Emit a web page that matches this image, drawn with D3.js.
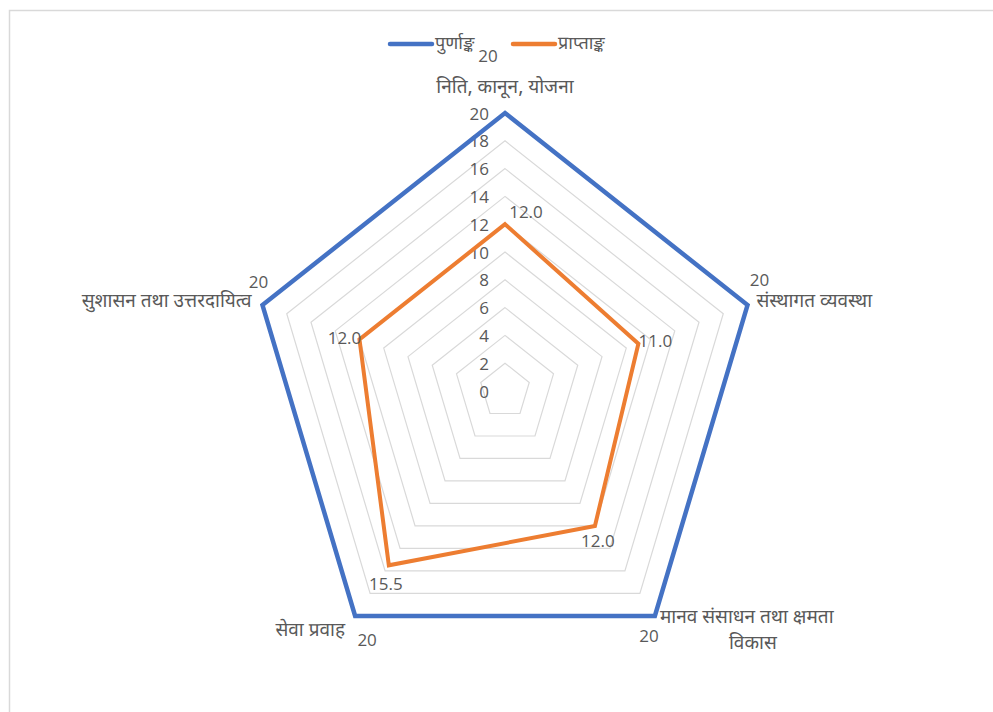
<!DOCTYPE html>
<html>
<head>
<meta charset="utf-8">
<script src="https://cdn.jsdelivr.net/npm/d3@7"></script>
<style>
  body { margin: 0; background: #fff; }
  text { font-family: "Noto Sans Devanagari", "Noto Sans", "Lohit Devanagari", sans-serif; fill: #595959; }
  .num { font-family: "Open Sans", "Noto Sans", sans-serif; }
</style>
</head>
<body>
<svg id="chart" width="993" height="712"></svg>
<script>
// categories (axes of the radar), clockwise from top
let categories = [
  ["निति, कानून, योजना"],
  ["संस्थागत व्यवस्था"],
  ["मानव संसाधन तथा क्षमता", "विकास"],
  ["सेवा प्रवाह"],
  ["सुशासन तथा उत्तरदायित्व"]
]
let series_names = ["पुर्णाङ्क", "प्राप्ताङ्क"]
let full_marks = [20, 20, 20, 20, 20]
let obtained = [12.0, 11.0, 12.0, 15.5, 12.0]
let ticks = [0, 2, 4, 6, 8, 10, 12, 14, 16, 18, 20]

let width = 993,
  height = 712,
  cx = 505,
  cy = 391,
  rx = 255,
  ry = 278,
  colors = ["#4472C4", "#ED7D31"]

// label offsets from each vertex (layout only)
let full_label_off = [[-17, -58], [12, -26], [-6, 20], [12, 24], [-4, -24]]
let obt_label_off = [[21, -13], [17, -3], [3, 15], [-3, 18], [-15, -2]]
let cat_label_pos = [
  {dx: 0, dy: -25, anchor: "middle"},
  {dx: 9, dy: -3, anchor: "start"},
  {dx: 5, dy: 2, anchor: "start"},
  {dx: -10, dy: 16, anchor: "end"},
  {dx: -11, dy: -3, anchor: "end"}
]

let r = d3.scaleLinear().domain([0, 20]).range([0, 1])
let angle = d3.scaleLinear().domain([0, categories.length]).range([0, 2 * Math.PI])

function px(i, v) { return cx + rx * r(v) * Math.sin(angle(i)) }
function py(i, v) { return cy - ry * r(v) * Math.cos(angle(i)) }

let line = d3.line()
  .x(d => px(d.i, d.v))
  .y(d => py(d.i, d.v))
  .curve(d3.curveLinearClosed)

let svg = d3.select("#chart")

// chart area border (only top/left visible in the frame)
svg.append("rect")
  .attr("x", 9.5).attr("y", 10.5)
  .attr("width", 1000).attr("height", 720)
  .attr("fill", "none").attr("stroke", "#d9d9d9").attr("stroke-width", 1.5)

// grid rings
svg.append("g").selectAll("path")
  .data(ticks.slice(1)).enter()
  .append("path")
  .attr("d", t => line(categories.map((c, i) => ({i: i, v: t}))))
  .attr("fill", "none")
  .attr("stroke", "#d9d9d9")
  .attr("stroke-width", 1.2)

// tick labels along top axis
svg.append("g").selectAll("text")
  .data(ticks).enter()
  .append("text")
  .attr("class", "num")
  .attr("x", cx - 16)
  .attr("y", t => py(0, t))
  .attr("text-anchor", "end")
  .attr("dominant-baseline", "central")
  .attr("font-size", 17)
  .text(t => t)

// series
let all_series = [full_marks, obtained]
svg.append("g").selectAll("path")
  .data(all_series).enter()
  .append("path")
  .attr("d", s => line(s.map((v, i) => ({i: i, v: v}))))
  .attr("fill", "none")
  .attr("stroke", (s, k) => colors[k])
  .attr("stroke-width", (s, k) => k == 0 ? 4.5 : 4)
  .attr("stroke-linejoin", "miter")

// data labels
svg.append("g").selectAll("text")
  .data(full_marks).enter()
  .append("text")
  .attr("class", "num")
  .attr("x", (v, i) => px(i, v) + full_label_off[i][0])
  .attr("y", (v, i) => py(i, v) + full_label_off[i][1])
  .attr("text-anchor", "middle")
  .attr("dominant-baseline", "central")
  .attr("font-size", 17)
  .text(v => v)

svg.append("g").selectAll("text")
  .data(obtained).enter()
  .append("text")
  .attr("class", "num")
  .attr("x", (v, i) => px(i, v) + obt_label_off[i][0])
  .attr("y", (v, i) => py(i, v) + obt_label_off[i][1])
  .attr("text-anchor", "middle")
  .attr("dominant-baseline", "central")
  .attr("font-size", 17)
  .text(v => d3.format(".1f")(v))

// category labels
let cat = svg.append("g").selectAll("text")
  .data(categories).enter()
  .append("text")
  .attr("x", (c, i) => px(i, 20) + cat_label_pos[i].dx)
  .attr("y", (c, i) => py(i, 20) + cat_label_pos[i].dy)
  .attr("text-anchor", (c, i) => cat_label_pos[i].anchor)
  .attr("dominant-baseline", "central")
  .attr("font-size", 19)

cat.each(function(c) {
  let t = d3.select(this)
  if (c.length == 1) {
    t.text(c[0])
  } else {
    t.append("tspan").text(c[0])
    t.append("tspan")
      .attr("x", +t.attr("x") + 93)
      .attr("dy", 26)
      .attr("text-anchor", "middle")
      .text(c[1])
  }
})

// legend
let legend = svg.append("g").selectAll("g")
  .data(series_names).enter()
  .append("g")
  .attr("transform", (d, k) => `translate(${k == 0 ? 390 : 513}, 44)`)

legend.append("line")
  .attr("x1", 0).attr("x2", 42)
  .attr("y1", 0).attr("y2", 0)
  .attr("stroke", (d, k) => colors[k])
  .attr("stroke-width", 4.5)
  .attr("stroke-linecap", "round")

legend.append("text")
  .attr("x", 45)
  .attr("y", 0)
  .attr("dominant-baseline", "central")
  .attr("font-size", 18)
  .text(d => d)
</script>
</body>
</html>
